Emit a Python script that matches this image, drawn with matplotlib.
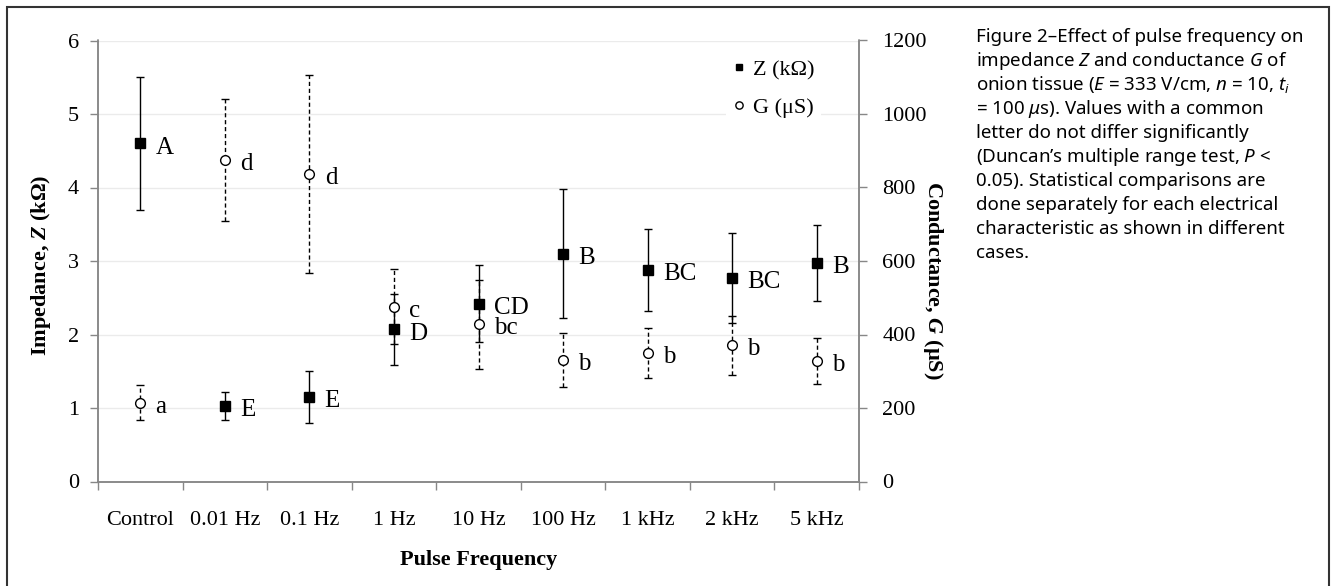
import matplotlib
matplotlib.use("Agg")
import matplotlib.pyplot as plt
from matplotlib.lines import Line2D
from matplotlib.patches import Rectangle

# ------------------------------------------------------
# Data
# ------------------------------------------------------
categories = ["Control", "0.01 Hz", "0.1 Hz", "1 Hz", "10 Hz",
              "100 Hz", "1 kHz", "2 kHz", "5 kHz"]

z_mean = [4.60, 1.03, 1.15, 2.07, 2.42, 3.10, 2.88, 2.77, 2.97]   # kOhm
z_err = [0.91, 0.19, 0.36, 0.48, 0.52, 0.88, 0.56, 0.61, 0.52]
z_letters = ["A", "E", "E", "D", "CD", "B", "BC", "BC", "B"]

g_mean = [214, 875, 837, 476, 428, 331, 349, 371, 328]             # uS
g_err = [48, 165, 270, 102, 121, 73, 68, 80, 63]
g_letters = ["a", "d", "d", "c", "bc", "b", "b", "b", "b"]

caption_lines = [
    "Figure 2\u2013Effect of pulse frequency on",
    "impedance $Z$ and conductance $G$ of",
    "onion tissue ($E$ = 333 V/cm, $n$ = 10, $t_i$",
    "= 100 $\\mu$s). Values with a common",
    "letter do not differ significantly",
    "(Duncan\u2019s multiple range test, $P$ <",
    "0.05). Statistical comparisons are",
    "done separately for each electrical",
    "characteristic as shown in different",
    "cases.",
]

# ------------------------------------------------------
# Style
# ------------------------------------------------------
plt.rcParams.update({
    "font.family": ["Liberation Serif", "DejaVu Serif"],
    "mathtext.fontset": "custom",
    "mathtext.rm": "Noto Sans",
    "mathtext.it": "Noto Sans:italic",
    "mathtext.bf": "Liberation Serif:bold",
    "mathtext.bfit": "Liberation Serif:italic:bold",
})

W, H = 1334, 586
SPINE = "#878787"
fig = plt.figure(figsize=(W / 100, H / 100), dpi=100)

ax_l, ax_r, ax_t, ax_b = 98, 859, 40.5, 481.5
ax = fig.add_axes([ax_l / W, 1 - ax_b / H, (ax_r - ax_l) / W, (ax_b - ax_t) / H])
ax2 = ax.twinx()

x = list(range(len(categories)))

# Z series (left axis)
ax.errorbar(x, z_mean, yerr=z_err, fmt="s", color="black", ms=6.5,
            ecolor="black", elinewidth=1.0, capsize=3, capthick=1.0, zorder=3)

# G series (right axis), dashed error bars
_, caps, bars = ax2.errorbar(x, g_mean, yerr=g_err, fmt="o", mfc="white",
                             mec="black", mew=1.0, ms=7, ecolor="black",
                             elinewidth=1.0, capsize=3, capthick=1.0, zorder=3)
for b in bars:
    b.set_linestyle((0, (3, 2)))

for xi, v, s in zip(x, z_mean, z_letters):
    ax.annotate(s, (xi, v), xytext=(11, -3), textcoords="offset points",
                ha="left", va="center", fontsize=18)
for xi, v, s in zip(x, g_mean, g_letters):
    ax2.annotate(s, (xi, v), xytext=(11, -3), textcoords="offset points",
                 ha="left", va="center", fontsize=18)

# axes limits and ticks
ax.set_xlim(-0.5, len(categories) - 0.5)
ax.set_ylim(0, 6)
ax2.set_ylim(0, 1200)
ax.set_yticks(range(0, 7))
ax2.set_yticks(range(0, 1201, 200))
ax.set_xticks(x)
ax.set_xticklabels(categories)
ax.set_xticks([i - 0.5 for i in range(len(categories) + 1)], minor=True)

ax.tick_params(axis="x", which="major", length=0, pad=21, labelsize=16)
ax.tick_params(axis="x", which="minor", length=5.8, width=1.0, color=SPINE)
ax.tick_params(axis="y", length=5.8, width=1.0, color=SPINE, pad=8, labelsize=16)
ax2.tick_params(axis="y", length=5.8, width=1.0, color=SPINE, pad=11, labelsize=16)

ax.yaxis.grid(True, color="#ebebeb", lw=1.0)
ax.set_axisbelow(True)

for a in (ax, ax2):
    a.spines["top"].set_visible(False)
    for sp in ("left", "right", "bottom"):
        a.spines[sp].set_color(SPINE)
        a.spines[sp].set_linewidth(1.1)

# legend
handles = [
    Line2D([], [], ls="none", marker="s", color="black", ms=6.5),
    Line2D([], [], ls="none", marker="o", mfc="white", mec="black", ms=7),
]
leg = ax2.legend(handles, ["Z (k\u03a9)", "G (\u03bcS)"], loc="upper left",
                 bbox_to_anchor=(0.81, 0.997), fontsize=16, frameon=True,
                 facecolor="white", edgecolor="none", framealpha=1,
                 markerscale=0.75, handlelength=0.6, handletextpad=0.35,
                 labelspacing=0.78, borderpad=0.3)

# axis titles
fig.text(41 / W, 1 - 265 / H, "Impedance, $\\mathbfit{Z}$ (k\u03a9)",
         rotation=90, ha="center", va="center", fontsize=16, fontweight="bold")
fig.text(933 / W, 1 - 280 / H, "Conductance, $\\mathbfit{G}$ (\u00b5S)",
         rotation=270, ha="center", va="center", fontsize=16, fontweight="bold")
fig.text(479 / W, 1 - 560 / H, "Pulse Frequency", ha="center", va="center",
         fontsize=16, fontweight="bold")

# caption
for i, line in enumerate(caption_lines):
    fig.text(976 / W, 1 - (42 + 24 * i) / H, line, ha="left", va="baseline",
             fontsize=13.5, family="Noto Sans", fontweight="medium")

# outer frame
fig.patches.append(Rectangle((7 / W, -0.05), (1329 - 7) / W, 1.05 - 7 / H,
                             transform=fig.transFigure, fill=False,
                             lw=1.5, ec="#333333"))

fig.savefig("out.png", dpi=100)
